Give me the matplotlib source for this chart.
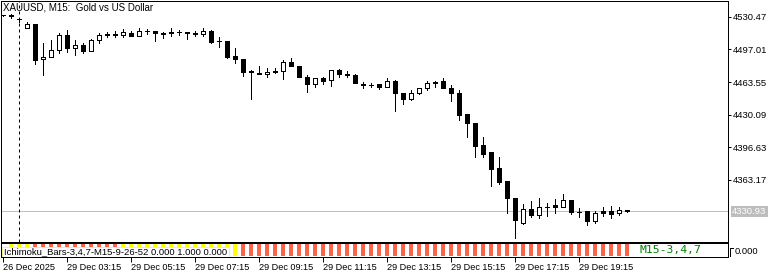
import matplotlib
matplotlib.use("Agg")
import matplotlib.pyplot as plt
from matplotlib.lines import Line2D
from matplotlib.patches import Rectangle

plt.rcParams['font.family'] = ['Liberation Sans', 'DejaVu Sans']

# XAUUSD M15 candles
opens = [4531.8, 4531.5, 4528.6, 4519.2, 4523.3, 4486.9, 4488.9, 4496.4, 4511.9, 4498.2,
         4501.6, 4495.7, 4506.2, 4513.0, 4511.5, 4511.6, 4514.0, 4511.2, 4516.0, 4516.0,
         4514.3, 4515.0, 4514.7, 4514.7, 4514.3, 4512.6, 4516.3, 4505.5, 4505.7, 4490.3,
         4487.2, 4474.8, 4472.6, 4471.5, 4475.3, 4474.8, 4484.4, 4480.0, 4468.9, 4461.4,
         4467.3, 4465.5, 4475.8, 4472.0, 4470.7, 4461.4, 4460.9, 4461.4, 4458.0, 4464.8,
         4452.4, 4445.9, 4452.4, 4457.0, 4462.1, 4464.5, 4457.0, 4452.4, 4430.4, 4421.9,
         4399.5, 4391.6, 4375.1, 4361.7, 4344.6, 4319.4, 4333.2, 4327.3, 4335.6, 4337.4,
         4335.4, 4342.3, 4330.6, 4330.9, 4321.3, 4331.0, 4331.0, 4329.2, 4332.0]
highs = [4532.5, 4533.6, 4528.6, 4525.0, 4523.3, 4503.4, 4506.8, 4514.3, 4517.1, 4506.8,
         4503.4, 4508.1, 4513.7, 4514.7, 4515.5, 4517.8, 4516.3, 4518.8, 4518.0, 4516.0,
         4515.3, 4518.8, 4517.3, 4514.7, 4515.5, 4518.8, 4517.0, 4510.2, 4505.7, 4498.2,
         4487.2, 4475.5, 4480.3, 4478.2, 4477.6, 4485.8, 4487.9, 4480.0, 4470.7, 4467.3,
         4468.3, 4475.8, 4476.6, 4474.6, 4471.7, 4463.8, 4462.8, 4461.8, 4467.3, 4465.8,
         4452.4, 4455.2, 4457.0, 4464.5, 4464.5, 4467.3, 4460.0, 4455.2, 4430.4, 4421.9,
         4407.1, 4391.6, 4386.5, 4361.7, 4344.6, 4338.4, 4341.8, 4344.6, 4340.0, 4343.6,
         4348.7, 4343.0, 4334.3, 4330.9, 4331.0, 4335.1, 4336.2, 4335.1, 4332.0]
lows = [4531.0, 4529.0, 4524.6, 4519.2, 4481.7, 4470.7, 4488.9, 4493.0, 4494.7, 4491.3,
        4493.7, 4495.7, 4503.4, 4509.5, 4510.0, 4509.5, 4511.2, 4511.2, 4512.6, 4505.7,
        4509.1, 4511.2, 4512.0, 4507.8, 4510.6, 4511.2, 4504.0, 4499.2, 4488.0, 4483.4,
        4470.0, 4445.9, 4471.5, 4468.9, 4472.4, 4466.2, 4479.5, 4468.9, 4452.9, 4458.6,
        4461.4, 4459.6, 4468.9, 4468.4, 4462.7, 4457.0, 4458.0, 4456.0, 4458.0, 4433.9,
        4441.5, 4444.9, 4450.8, 4455.2, 4458.0, 4457.0, 4444.0, 4424.3, 4407.1, 4386.5,
        4386.5, 4357.3, 4359.0, 4329.7, 4304.0, 4318.4, 4325.3, 4324.6, 4326.3, 4329.7,
        4335.4, 4328.0, 4325.6, 4317.0, 4319.0, 4325.8, 4324.6, 4326.8, 4330.5]
closes = [4531.8, 4532.0, 4527.8, 4523.3, 4486.1, 4489.5, 4496.4, 4511.9, 4498.2, 4501.6,
          4495.7, 4506.8, 4511.9, 4511.7, 4512.5, 4514.7, 4511.2, 4516.3, 4516.2, 4513.7,
          4512.6, 4513.5, 4514.7, 4513.7, 4513.0, 4516.3, 4505.0, 4505.7, 4489.5, 4486.9,
          4474.1, 4473.5, 4472.2, 4474.1, 4474.3, 4484.4, 4480.0, 4468.9, 4461.1, 4467.3,
          4464.5, 4475.8, 4471.3, 4471.0, 4462.7, 4460.0, 4460.3, 4458.0, 4464.5, 4452.4,
          4445.9, 4452.8, 4457.0, 4462.1, 4463.8, 4457.0, 4451.8, 4430.1, 4421.9, 4398.5,
          4390.0, 4374.5, 4360.7, 4344.6, 4321.9, 4333.2, 4327.3, 4335.6, 4335.8, 4335.0,
          4342.3, 4330.3, 4329.9, 4321.3, 4329.2, 4329.2, 4328.4, 4332.0, 4330.93]

# Ichimoku_Bars sub window: y = yellow, r = red, '' = no value
ichi_colors = [''] + ['y'] * 3 + ['r'] * 11 + ['y'] * 15 + ['r'] * 49

price_ticks = [4363.17, 4396.63, 4430.09, 4463.55, 4497.01, 4530.47]
time_pos = [0, 8, 16, 24, 32, 40, 48, 56, 64, 72]
time_labels = ['26 Dec 2025', '29 Dec 03:15', '29 Dec 05:15', '29 Dec 07:15', '29 Dec 09:15',
               '29 Dec 11:15', '29 Dec 13:15', '29 Dec 15:15', '29 Dec 17:15', '29 Dec 19:15']
separator_bar = 2
title = 'XAUUSD, M15:  Gold vs US Dollar'

W, H = 781, 277
px = 0.72  # one pixel in points


def box(l, t, r, b):
    return [l / W, 1 - b / H, (r - l) / W, (b - t) / H]


fig = plt.figure(figsize=(W / 100, H / 100), dpi=100)
ax = fig.add_axes(box(1, 1, 728, 242))
ax2 = fig.add_axes(box(1, 243, 728, 257))

n = len(opens)
xs = list(range(n))

# candles
ax.vlines(xs, lows, highs, color='k', lw=px, antialiased=False, zorder=3)
bottoms = [min(o, c) for o, c in zip(opens, closes)]
heights = [max(abs(c - o), 0.2) for o, c in zip(opens, closes)]
fills = ['white' if c >= o else 'black' for o, c in zip(opens, closes)]
ax.bar(xs, heights, bottom=bottoms, width=0.6, color=fills, edgecolor='k',
       linewidth=px, antialiased=False, zorder=4)

last = closes[-1]
ax.axhline(last, color='#c0c0c0', lw=px, zorder=1)
ax.axvline(separator_bar, color='k', lw=px, linestyle=(0, (3, 3)), zorder=2)

ax.set_xlim(-0.25, 90.625)
ax.set_ylim(4299.6, 4546.6)
ax.yaxis.tick_right()
ax.set_yticks(price_ticks)
ax.set_yticklabels(['%.2f' % t for t in price_ticks])
ax.tick_params(axis='y', length=3 * px, width=px, pad=1.5, labelsize=6.8, direction='out')
ax.tick_params(axis='x', bottom=False, labelbottom=False)
for s in ax.spines.values():
    s.set_linewidth(px)

ax.text(2 / 727, 1 - 7 / 241, title, transform=ax.transAxes, ha='left', va='center',
        fontsize=7, zorder=6)
ax.text(1 + 4 / 727, last, '%.2f' % last, transform=ax.get_yaxis_transform(),
        ha='left', va='center', color='white', fontsize=6.8,
        bbox=dict(boxstyle='square,pad=0.15', fc='#bdbdbd', ec='none'))

# sub window
for i, c in enumerate(ichi_colors):
    if c:
        ax2.bar(i, 1, bottom=0, width=0.6, color='#ffff00' if c == 'y' else '#ff6347',
                linewidth=0, antialiased=False)
ax2.set_xlim(-0.25, 90.625)
ax2.set_ylim(-1 / 12, 13 / 12)
ax2.set_yticks([])
ax2.set_xticks(time_pos)
ax2.set_xticklabels(time_labels, ha='left')
ax2.tick_params(axis='x', length=5 * px, width=px, pad=1, labelsize=6.6, direction='out')
for s in ax2.spines.values():
    s.set_linewidth(px)

ax2.add_patch(Rectangle((1 / 727, 0), 227 / 727, 10 / 14, transform=ax2.transAxes,
                        fc='white', ec='#f0f0a0', lw=px, zorder=5))
ax2.text(3 / 727, 5 / 14, 'Ichimoku_Bars-3,4,7-M15-9-26-52 0.000 1.000 0.000',
         transform=ax2.transAxes, ha='left', va='center', fontsize=6.8, zorder=6)
ax2.text(639 / 727, 0.5, 'M15-3,4,7', transform=ax2.transAxes, ha='left', va='center',
         fontsize=8.2, family='DejaVu Sans Mono', color='#008000')

fig.text(735 / W, 1 - 251 / H, '0.000', ha='left', va='center', fontsize=6.8)
fig.add_artist(Line2D([733 / W, 730 / W, 730 / W], [1 - 248 / H, 1 - 248 / H, 1 - 256 / H],
                      color='k', lw=px))

fig.savefig('out.png', dpi=100)
